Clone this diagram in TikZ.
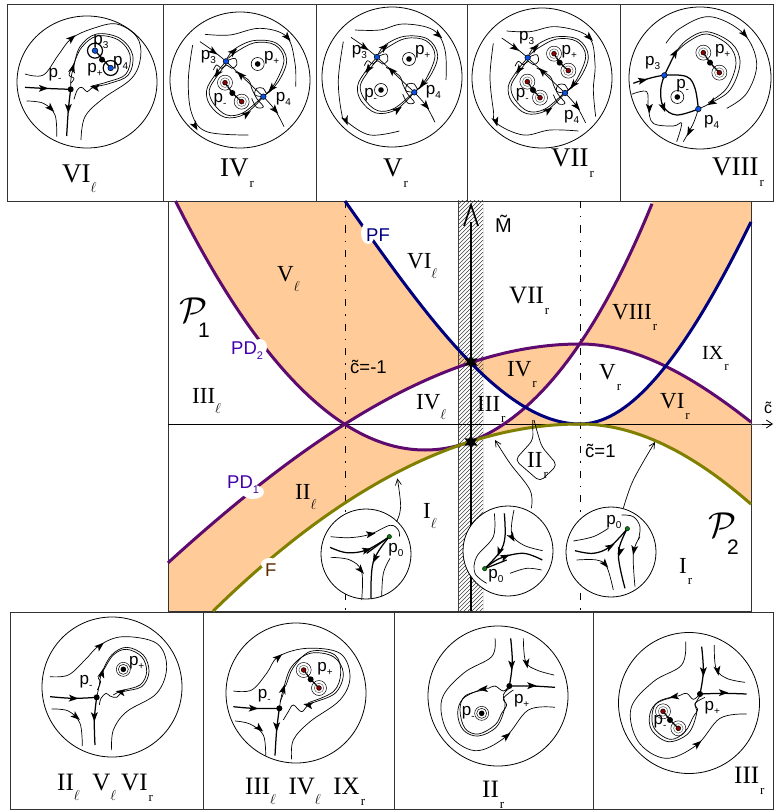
\documentclass[tikz,border=0pt]{standalone}
\usepackage{fontspec}
\setmainfont{Liberation Serif}
\setsansfont{Liberation Sans}
\usetikzlibrary{arrows.meta,shapes.geometric}
\definecolor{regionfill}{HTML}{FFCC99}
\definecolor{pdcurve}{HTML}{5F0A6E}
\definecolor{pfcurve}{HTML}{00007F}
\definecolor{fcurve}{HTML}{808000}
\definecolor{pdtext}{HTML}{4400AA}
\definecolor{ftext}{HTML}{5C2A00}
\definecolor{dotblue}{HTML}{0A50E0}
\definecolor{dotred}{HTML}{8B0000}
\definecolor{dotgreen}{HTML}{0A7A0A}
\tikzset{
  declare function={
    tt(\x)=(\x-580)/100;
    uu(\x)=(\x-425)/100;
    PFL(\x)=424-tt(\x)*tt(\x)*(60.8+8.69*tt(\x));
    PFR(\x)=424-tt(\x)*tt(\x)*(88.6-11.4*tt(\x));
    PAL(\x)=344+tt(\x)*tt(\x)*(16.6+.9*tt(\x));
    PAR(\x)=344+tt(\x)*tt(\x)*(34.06-4.3*tt(\x));
    PBL(\x)=450-40*uu(\x)*uu(\x);
    PBR(\x)=450-uu(\x)*uu(\x)*(40+1.5*uu(\x)+.85*uu(\x)*uu(\x));
    FFL(\x)=424+tt(\x)*tt(\x)*(15+.3*tt(\x));
    FFR(\x)=424+tt(\x)*tt(\x)*(31-2.1*tt(\x));
  },
  zf/.style={shift={#1},x=.33333pt,y=-.33333pt},
  tn/.style={line width=.7pt},
  tk/.style={line width=1.25pt},
  boxline/.style={line width=.8pt,black!80},
  panel/.style={line width=.8pt,fill=white},
  leader/.style={line width=.7pt,-{Straight Barb[length=6pt,width=6pt]}},
  curve/.style={line width=3pt,line join=round},
  dashdot/.style={line width=1pt,dash pattern=on 7pt off 8pt on 1.5pt off 8pt},
  cname/.style={font=\sffamily\fontsize{18.5}{18.5}\selectfont,inner sep=0pt},
}
\newcommand\seg[3]{plot[domain=#2:#3,samples=40,smooth] (\x,{#1(\x)})}
\newcommand\sgl[3]{-- plot[domain=#2:#3,samples=40,smooth] (\x,{#1(\x)})}
\newcommand\fl[2][tn]{\draw[#1] plot[smooth,tension=.6] coordinates {#2};}
\newcommand\ah[3]{\fill[shift={(#1,#2)},rotate=#3] (5pt,0pt) -- (-4.5pt,3.5pt) -- (-2.2pt,0pt) -- (-4.5pt,-3.5pt) -- cycle;}
\newcommand\subr{\raisebox{-11pt}{\hspace{1pt}\fontsize{13}{13}\selectfont r}}
\newcommand\subl{\raisebox{-10pt}{\fontsize{15}{15}\selectfont$\ell$}}
\newcommand\rn[4][23]{\node[anchor=base west,inner sep=0pt,font=\fontsize{#1}{#1}\selectfont] at (#2,#3) {#4};}
\newcommand\pl[3]{\node[inner sep=0pt,font=\sffamily\fontsize{17}{17}\selectfont] at (#1,#2) {p\raisebox{-4pt}{\fontsize{10}{10}\selectfont #3}};}
\newcommand\sad[2]{\fill (#1,#2) circle (3pt);}
\newcommand\bdot[2]{\filldraw[fill=dotblue,line width=.5pt] (#1,#2) circle (2.8pt);}
\newcommand\gdot[2]{\filldraw[fill=dotgreen,line width=.4pt] (#1,#2) circle (2.2pt);}
\newcommand\rring[2]{\draw[line width=.5pt] (#1,#2) circle (7.5pt);\draw[line width=.5pt,black!60] (#1,#2) circle (4.8pt);\filldraw[fill=dotred,line width=.5pt] (#1,#2) circle (2.4pt);}
\newcommand\kring[2]{\draw[line width=.6pt] (#1,#2) circle (6.5pt);\fill (#1,#2) circle (2.8pt);}
\newcommand\kringt[2]{\draw[line width=.5pt] (#1,#2) circle (7pt);\draw[line width=.5pt] (#1,#2) circle (5pt);\fill (#1,#2) circle (2.8pt);}
\newcommand\dumb[6]{\draw[tk] (#1,#2) -- (#3,#4) -- (#5,#6);\rring{#1}{#2}\rring{#5}{#6}\sad{#3}{#4}}
\newcommand\crossflow{%
  \fl{(600,125)(640,153)(678,184)}
  \draw[tn] (678,184) -- (790,290);
  \fl{(790,290)(825,330)(852,380)}
  \ah{640}{155}{-35}\ah{722}{225}{135}\ah{825}{330}{-50}
  \fl{(678,184)(700,150)(760,122)(830,130)(860,180)(835,245)(790,290)}
  \fl{(685,175)(710,155)(765,128)(825,135)(852,180)(825,250)(795,285)}
  \fl{(678,184)(645,225)(620,270)(630,315)(675,352)(735,342)(790,290)}
  \fl{(680,190)(650,230)(628,270)(640,310)(680,345)(730,338)(785,292)}
  \ah{700}{155}{40}\ah{652}{220}{-125}\ah{740}{342}{35}\ah{815}{265}{-130}
  \fl{(678,184)(705,175)(710,195)(695,205)(680,195)(665,205)(650,195)(640,210)}
  \fl{(705,215)(745,240)(755,265)(770,295)(790,320)(770,322)(755,295)}
  \fl{(790,290)(765,285)(770,265)(790,265)(800,280)(815,270)}
  \bdot{678}{184}\bdot{790}{290}
}
\begin{document}
\begin{tikzpicture}[x=1pt,y=-1pt]
\useasboundingbox (0,0) rectangle (773,810);
% shaded regions
\fill[regionfill] \seg{PBL}{175.5}{345} \sgl{PAL}{345}{470} \sgl{PFL}{470}{345} -- cycle;
\fill[regionfill] \seg{PAL}{168}{345} \sgl{PBL}{345}{425} \sgl{PBR}{425}{470} \sgl{FFL}{470}{213} -- (168,611) -- cycle;
\fill[regionfill] \seg{PAL}{470}{580} \sgl{PBR}{580}{525} \sgl{PFL}{525}{470} -- cycle;
\fill[regionfill] \seg{PBR}{470}{525} \sgl{PFL}{525}{580} \sgl{FFL}{580}{470} -- cycle;
\fill[regionfill] \seg{PBR}{652}{580} \sgl{PAR}{580}{665} \sgl{PFR}{665}{751} -- (751,201) -- (652,201) -- cycle;
\fill[regionfill] \seg{PAR}{665}{751} -- (751,504) \sgl{FFR}{751}{580} \sgl{PFR}{580}{665} -- cycle;
% hatched band
\begin{scope}
\clip (458,201) rectangle (483,611);
\foreach \yy in {201,205,...,640} \draw[line width=.6pt,black!75] (458,\yy) -- (483,\yy-25);
\draw[line width=.6pt,black!75] (458,201) -- (458,611) (483,201) -- (483,611);
\end{scope}
% frames
\draw[boxline] (168,201) rectangle (751,611);
\draw[boxline] (7,4) rectangle (773,201);
\draw[boxline] (163,4) -- (163,201) (316,4) -- (316,201) (467,4) -- (467,201) (620,4) -- (620,201);
\draw[boxline] (10,612) rectangle (773,809);
\draw[boxline] (203,612) -- (203,809) (394,612) -- (394,809) (593,612) -- (593,809);
% dash-dot and axes
\draw[dashdot] (345,201) -- (345,611);
\draw[dashdot] (580,201) -- (580,611);
\draw[line width=.8pt] (168,424) -- (751,424);
\draw[line width=.8pt,black!60] (751,424) -- (768,424);
\draw[line width=.8pt,-{Straight Barb[length=6pt,width=8pt]}] (762,424) -- (773,424);
% curves
\draw[curve,pdcurve] \seg{PBL}{175.5}{425} \sgl{PBR}{425}{652};
\draw[curve,pdcurve] \seg{PAL}{168}{580} \sgl{PAR}{580}{751};
\draw[curve,pfcurve] \seg{PFL}{345}{580} \sgl{PFR}{580}{751};
\draw[curve,fcurve] \seg{FFL}{213}{580} \sgl{FFR}{580}{751};
% M axis
\draw[line width=2.8pt] (471,611) -- (471,222);
\draw[line width=1.6pt,line join=miter] (464,226) -- (471,205) -- (478,226);
\node[star,star points=6,star point ratio=2,fill=black,minimum size=15pt,inner sep=0pt] (starA) at (471,362) {};
\node[star,star points=6,star point ratio=2,fill=black,minimum size=15pt,inner sep=0pt] (starB) at (471,442) {};
% curve names
\fill[white] (368,233) ellipse (7pt and 11pt);
\fill[white] (260,347) ellipse (7pt and 8pt);
\fill[white] (253,492) ellipse (11pt and 7pt);
\fill[white] (270,564) ellipse (9pt and 6pt);
\node[cname,pfcurve,anchor=base west] at (366,241) {PF};
\node[cname,pdtext,anchor=base west] at (231,354) {PD\raisebox{-5pt}{\fontsize{11}{11}\selectfont 2}};
\node[cname,pdtext,anchor=base west] at (227,488) {PD\raisebox{-5pt}{\fontsize{11}{11}\selectfont 1}};
\node[cname,ftext,anchor=base west] at (265,576) {F};
% big region names
\node[scale=3.6] at (193,310) {$\mathcal{P}$};
\node[font=\sffamily\fontsize{21}{21}\selectfont,inner sep=0pt] at (204,330) {1};
\node[scale=3.6] at (722,525) {$\mathcal{P}$};
\node[font=\sffamily\fontsize{21}{21}\selectfont,inner sep=0pt] at (733,547) {2};
% region labels
\rn{277}{281}{V\subl}
\rn{192}{403}{III\subl}
\rn{295}{499}{II\subl}
\rn{416}{409}{IV\subl}
\rn{477}{411}{III\subr}
\rn{507}{376}{IV\subr}
\rn{599}{379}{V\subr}
\rn{660}{408}{VI\subr}
\rn[20]{702}{359}{IX\subr}
\rn{612}{319}{VIII\subr}
\rn[25]{509}{303}{VII\subr}
\rn{407}{268}{VI\subl}
\rn{423}{518}{I\subl}
\rn{679}{573}{I\subr}
\rn{527}{467}{II\subr}
\node[anchor=base west,inner sep=0pt,font=\sffamily\fontsize{18.5}{18.5}\selectfont] at (350,373) {\~c=-1};
\node[anchor=base west,inner sep=0pt,font=\sffamily\fontsize{18.5}{18.5}\selectfont] at (585,457) {\~c=1};
\node[anchor=base west,inner sep=0pt,font=\sffamily\fontsize{20}{20}\selectfont] at (495,233) {\~M};
\node[anchor=base west,inner sep=0pt,font=\sffamily\fontsize{16}{16}\selectfont] (axisc) at (764,413) {\~c};
% II_r callout
\begin{scope}[zf={(310,340)}]
\draw[line width=.7pt,rounded corners=5pt] (668,240) -- (669,300) -- (615,360) -- (690,425) -- (742,375) -- (695,320) -- (680,270) -- (672,240);
\end{scope}
% ---------- small circles in the plot
\draw[panel] (366,554) circle (45pt);
\draw[panel] (508,551) circle (45pt);
\draw[panel] (611,552) circle (45pt);
\begin{scope}[zf={(310,340)}]
\fl{(62,590)(120,593)(180,583)(240,556)(265,570)(268,590)}
\ah{182}{582}{10}
\fl[tk]{(60,622)(110,638)(170,630)(238,590)}
\ah{170}{630}{15}
\fl{(62,652)(120,660)(155,695)(155,780)}
\ah{152}{690}{-50}
\fl[tk]{(238,590)(190,665)(183,775)}
\ah{195}{655}{-115}
\draw[tk] (238,590) -- (170,640);
\fl{(240,655)(220,700)(215,770)}
\gdot{238}{590}
\pl{258}{630}{0}
\draw[leader] plot[smooth,tension=.6] coordinates {(260,545)(272,500)(262,415)};
% middle
\fl{(553,520)(550,590)(500,650)(495,700)(530,730)}
\fl[tk]{(583,520)(585,590)(570,635)(524,686)}
\ah{568}{635}{-110}
\fl{(612,510)(605,580)(640,615)(698,632)}
\ah{606}{592}{-60}
\fl[tk]{(524,686)(570,655)(640,640)(697,660)}
\ah{585}{650}{25}
\draw[tk] (524,686) -- (590,660);
\fl{(600,700)(650,685)(695,690)}
\gdot{524}{686}
\pl{558}{708}{0}
\draw[leader] plot[smooth,tension=.6] coordinates {(664,505)(660,450)(600,370)(555,300)};
% right
\fl{(790,603)(850,590)(895,565)}
\fl{(935,525)(970,530)(990,560)(985,600)}
\fl[tk]{(795,632)(850,640)(900,620)(952,566)}
\ah{900}{620}{30}
\fl{(800,660)(860,660)(890,680)(910,750)}
\ah{885}{672}{-50}
\fl[tk]{(952,566)(925,640)(945,745)}
\ah{930}{635}{-105}
\fl{(990,590)(970,640)(975,740)}
\ah{972}{630}{-100}
\gdot{952}{566}
\pl{912}{546}{0}
\draw[leader] plot[smooth,tension=.6] coordinates {(940,505)(970,420)(1035,306)};
\end{scope}
% ---------- top row
\draw[panel] (87,82) ellipse (70pt and 66pt);
\draw[panel] (240,80) ellipse (70pt and 68pt);
\draw[panel] (392,77) circle (70pt);
\draw[panel] (542,78) circle (70pt);
\draw[panel] (700,78) circle (71pt);
\begin{scope}[zf={(0,0)}]
\fl{(75,222)(130,225)(175,165)(215,115)(280,85)(350,72)(410,110)(422,170)(395,235)(310,295)(255,350)(243,420)}
\ah{215}{115}{40}
\fl[tk]{(75,262)(130,265)(212,268)}
\ah{130}{265}{0}
\fl{(80,303)(130,310)(165,345)(170,410)}
\ah{152}{325}{-45}
\fl[tk]{(212,268)(205,330)(200,408)}
\ah{205}{325}{-90}
\fl{(212,268)(213,235)(220,205)(240,140)(290,102)(360,115)(398,165)(385,225)(330,250)(280,262)(262,275)(245,262)(232,270)(222,298)}
\fl{(212,250)(222,235)(207,225)(218,200)(245,142)(292,108)(355,120)(390,165)(378,222)(325,245)(275,258)}
\ah{218}{205}{75}\ah{285}{262}{170}
\draw[line width=1.2pt] (285,152) circle (7.5pt) (332,204) circle (7.5pt);
\draw[tk] (285,152) -- (332,204);
\bdot{285}{152}\bdot{332}{204}\sad{306}{179}\sad{212}{268}
\pl{165}{225}{-}
\pl{303}{125}{3}
\pl{285}{210}{+}
\pl{362}{188}{4}
% IV_r
\crossflow
\fl{(615,103)(690,105)(780,85)(860,110)(885,190)(887,260)}
\ah{862}{112}{-50}
\fl{(578,135)(565,240)(575,340)(620,395)(745,405)}
\ah{585}{378}{-60}
\kring{773}{192}
\dumb{675}{248}{697}{279}{725}{305}
\pl{625}{172}{3}
\pl{815}{175}{+}
\pl{660}{300}{-}
\pl{850}{297}{4}
\end{scope}
% V_r (same separatrix skeleton)
\begin{scope}[shift={(151,-4.33)},x=.33333pt,y=-.33333pt]
\crossflow
\end{scope}
\begin{scope}[zf={(310,0)}]
\fl{(135,90)(210,90)(280,72)(370,90)(405,150)(408,240)}
\ah{385}{105}{-40}
\fl{(100,125)(85,240)(95,340)(110,365)(180,405)(268,393)}
\ah{108}{362}{-70}
\kring{297}{177}\kring{213}{270}
\pl{148}{157}{3}
\pl{338}{157}{+}
\pl{182}{285}{-}
\pl{370}{277}{4}
\end{scope}
% VII_r
\begin{scope}[shift={(301.67,-3.67)},x=.33333pt,y=-.33333pt]
\crossflow
\end{scope}
\begin{scope}[zf={(310,0)}]
\fl{(590,93)(660,95)(740,80)(835,110)(855,190)(850,270)(857,350)}
\ah{838}{112}{-45}
\fl{(550,130)(540,230)(550,330)(560,370)(640,405)(720,390)(805,393)}
\ah{558}{365}{-75}
\dumb{732}{161}{749}{188}{775}{212}
\dumb{652}{245}{669}{270}{690}{293}
\pl{650}{115}{3}
\pl{778}{157}{+}
\pl{637}{285}{-}
\pl{785}{350}{4}
% VIII_r
\fl[tk]{(970,250)(1000,240)(1063,226)(1130,230)(1155,265)(1165,327)}
\ah{998}{241}{12}
\fl[tk]{(1063,226)(1095,160)}
\fl{(1095,160)(1130,120)(1190,95)(1265,130)(1290,190)(1260,270)(1200,310)(1165,327)}
\fl{(1100,155)(1135,125)(1190,102)(1255,135)(1278,190)(1250,265)(1195,308)}
\ah{1095}{160}{60}\ah{1205}{308}{-150}
\fl[tk]{(1063,226)(1052,270)(1060,320)(1100,345)(1165,327)}
\ah{1060}{322}{-70}
\fl{(1165,327)(1150,370)(1120,425)}
\ah{1138}{395}{-115}
\fl{(1068,130)(1110,85)(1200,50)(1300,100)(1340,190)(1310,280)(1250,325)}
\ah{1303}{102}{-50}
\fl{(965,283)(1010,275)(1015,325)(1030,370)(1090,378)(1115,370)(1100,425)}
\ah{1018}{325}{-90}
\dumb{1180}{158}{1200}{188}{1228}{218}
\kring{1102}{291}
\bdot{1063}{226}\bdot{1165}{327}
\pl{1028}{190}{3}
\pl{1238}{152}{+}
\pl{1118}{258}{-}
\pl{1205}{367}{4}
\end{scope}
\rn[27]{62}{183}{VI\subl}
\rn[27]{220}{177}{IV\subr}
\rn[27]{383}{177}{V\subr}
\rn[27]{551}{167}{VII\subr}
\rn[27]{712}{176}{VIII\subr}
% ---------- bottom row
\draw[panel] (112,687) circle (70pt);
\draw[panel] (296,693) circle (70pt);
\draw[panel] (498,696) circle (70pt);
\draw[panel] (689,703) circle (70.5pt);
\begin{scope}[zf={(0,610)}]
\fl{(150,200)(205,195)(255,150)(300,105)(370,80)(470,100)(500,170)(470,250)(380,305)(340,360)(335,420)}
\ah{300}{108}{40}
\fl[tk]{(150,260)(220,265)(290,262)}
\ah{220}{265}{-3}
\fl{(155,297)(205,303)(240,340)(247,408)}
\ah{228}{320}{-40}
\fl[tk]{(290,262)(283,330)(285,405)}
\ah{283}{320}{-90}
\fl{(290,262)(298,225)(305,190)(335,135)(380,112)(430,135)(447,185)(425,230)(370,245)(350,262)(330,258)(318,250)(303,265)(298,285)}
\fl{(292,240)(302,215)(295,205)(308,185)(340,135)(380,118)(425,140)(440,185)(420,225)(365,242)(340,255)}
\ah{306}{190}{75}\ah{362}{246}{170}
\kringt{370}{178}
\sad{290}{262}
\pl{258}{215}{-}
\pl{410}{158}{+}
% III_l IV_l IX_r
\fl{(700,243)(755,240)(800,190)(835,140)(920,115)(1020,130)(1050,200)(1020,270)(930,335)(880,390)(875,448)}
\ah{835}{142}{40}
\fl[tk]{(700,290)(760,295)(838,295)}
\ah{760}{295}{-3}
\fl{(705,333)(750,342)(790,375)(797,437)}
\ah{778}{355}{-40}
\fl[tk]{(838,295)(830,360)(825,437)}
\ah{830}{350}{-90}
\fl{(838,295)(845,255)(852,230)(875,170)(930,130)(1000,140)(1030,190)(1005,250)(930,282)(905,305)(880,285)(865,305)(850,330)}
\fl{(840,275)(850,250)(845,240)(858,225)(880,172)(932,124)(1005,135)(1022,190)(1000,245)(925,278)}
\ah{850}{238}{75}\ah{925}{285}{170}
\dumb{911}{180}{932}{208}{957}{234}
\sad{838}{295}
\pl{793}{258}{-}
\pl{975}{178}{+}
\end{scope}
\begin{scope}[zf={(395,610)}]
% II_r
\fl[tk]{(347,85)(352,160)(343,228)}
\ah{350}{165}{-90}
\fl{(300,85)(290,140)(205,190)(140,270)(160,370)(240,422)(330,382)(400,300)(480,292)}
\ah{335}{378}{40}
\fl{(385,85)(392,155)(425,180)(477,195)}
\ah{395}{160}{-80}
\fl[tk]{(343,228)(410,228)(480,232)}
\ah{410}{227}{0}
\fl{(343,228)(325,243)(300,228)(280,235)(262,237)(205,265)(188,310)(205,360)(250,378)(305,350)(330,290)(325,255)(343,235)}
\fl{(265,240)(210,258)(195,300)(210,355)(250,372)(300,345)(320,310)(335,285)(325,265)(355,240)}
\ah{265}{237}{185}
\kringt{260}{310}
\sad{343}{228}
\pl{220}{310}{-}
\pl{380}{273}{+}
% III_r
\fl[tk]{(920,110)(925,185)(915,252)}
\ah{925}{185}{-90}
\fl{(872,95)(860,165)(775,215)(708,295)(730,395)(812,445)(905,405)(975,325)(1055,312)}
\ah{908}{402}{40}
\fl{(958,105)(963,175)(995,205)(1050,217)}
\ah{968}{182}{-80}
\fl[tk]{(915,252)(985,250)(1055,252)}
\ah{985}{248}{0}
\fl{(915,252)(895,268)(875,250)(850,258)(835,260)(790,275)(765,310)(770,360)(820,395)(880,370)(905,310)(900,285)(915,258)}
\fl{(835,262)(780,285)(775,350)(825,388)(870,365)(895,320)(908,300)(900,280)(930,262)}
\ah{838}{260}{190}
\dumb{804}{304}{825}{330}{850}{355}
\sad{915}{252}
\pl{795}{335}{-}
\pl{952}{295}{+}
\end{scope}
\rn[25]{57}{790}{II\subl\hspace{.5em}V\subl\hspace{.2em}VI\subr}
\rn[25]{245}{794}{III\subl\hspace{.5em}IV\subl\hspace{.5em}IX\subr}
\rn[25]{482}{797}{II\subr}
\rn[25]{734}{783}{III\subr}
\end{tikzpicture}
\end{document}
